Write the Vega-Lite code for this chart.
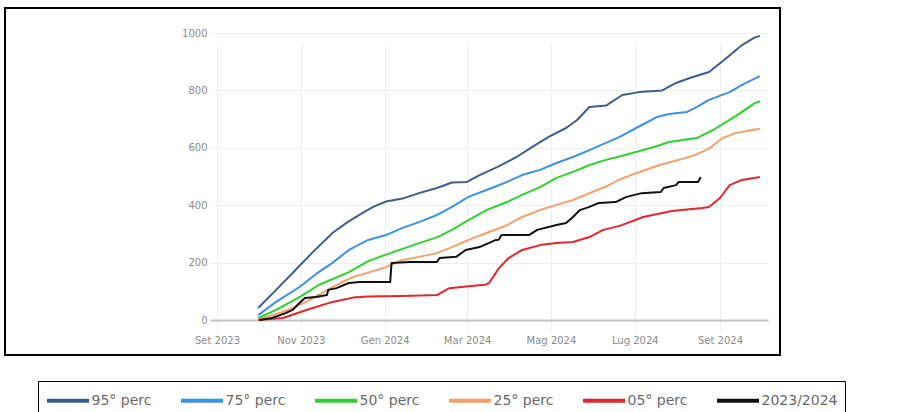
{
  "$schema": "https://vega.github.io/schema/vega-lite/v6.json",
  "width": 775,
  "height": 347,
  "autosize": {"type": "none"},
  "padding": {"left": 5, "top": 8, "right": 118, "bottom": 57},
  "background": "white",
  "config": {
    "view": {"stroke": "#000000", "strokeWidth": 2},
    "font": "DejaVu Sans"
  },
  "data": {
    "values": [
      {"date": "2023-10-01", "value": 42, "series": "95° perc"},
      {"date": "2023-10-14", "value": 105, "series": "95° perc"},
      {"date": "2023-10-26", "value": 164, "series": "95° perc"},
      {"date": "2023-11-09", "value": 233, "series": "95° perc"},
      {"date": "2023-11-24", "value": 303, "series": "95° perc"},
      {"date": "2023-12-05", "value": 341, "series": "95° perc"},
      {"date": "2023-12-16", "value": 373, "series": "95° perc"},
      {"date": "2023-12-24", "value": 395, "series": "95° perc"},
      {"date": "2024-01-02", "value": 413, "series": "95° perc"},
      {"date": "2024-01-14", "value": 423, "series": "95° perc"},
      {"date": "2024-01-26", "value": 442, "series": "95° perc"},
      {"date": "2024-02-08", "value": 460, "series": "95° perc"},
      {"date": "2024-02-19", "value": 479, "series": "95° perc"},
      {"date": "2024-03-01", "value": 481, "series": "95° perc"},
      {"date": "2024-03-10", "value": 505, "series": "95° perc"},
      {"date": "2024-03-24", "value": 535, "series": "95° perc"},
      {"date": "2024-04-06", "value": 568, "series": "95° perc"},
      {"date": "2024-04-18", "value": 605, "series": "95° perc"},
      {"date": "2024-04-30", "value": 640, "series": "95° perc"},
      {"date": "2024-05-12", "value": 669, "series": "95° perc"},
      {"date": "2024-05-20", "value": 697, "series": "95° perc"},
      {"date": "2024-05-29", "value": 742, "series": "95° perc"},
      {"date": "2024-06-10", "value": 747, "series": "95° perc"},
      {"date": "2024-06-22", "value": 784, "series": "95° perc"},
      {"date": "2024-07-04", "value": 794, "series": "95° perc"},
      {"date": "2024-07-21", "value": 800, "series": "95° perc"},
      {"date": "2024-07-31", "value": 826, "series": "95° perc"},
      {"date": "2024-08-10", "value": 843, "series": "95° perc"},
      {"date": "2024-08-24", "value": 864, "series": "95° perc"},
      {"date": "2024-09-06", "value": 914, "series": "95° perc"},
      {"date": "2024-09-17", "value": 958, "series": "95° perc"},
      {"date": "2024-09-26", "value": 984, "series": "95° perc"},
      {"date": "2024-09-30", "value": 990, "series": "95° perc"},

      {"date": "2023-10-01", "value": 17, "series": "75° perc"},
      {"date": "2023-10-14", "value": 63, "series": "75° perc"},
      {"date": "2023-10-31", "value": 115, "series": "75° perc"},
      {"date": "2023-11-14", "value": 167, "series": "75° perc"},
      {"date": "2023-11-24", "value": 199, "series": "75° perc"},
      {"date": "2023-12-06", "value": 244, "series": "75° perc"},
      {"date": "2023-12-20", "value": 279, "series": "75° perc"},
      {"date": "2024-01-02", "value": 296, "series": "75° perc"},
      {"date": "2024-01-14", "value": 321, "series": "75° perc"},
      {"date": "2024-01-26", "value": 341, "series": "75° perc"},
      {"date": "2024-02-08", "value": 366, "series": "75° perc"},
      {"date": "2024-02-19", "value": 394, "series": "75° perc"},
      {"date": "2024-03-02", "value": 429, "series": "75° perc"},
      {"date": "2024-03-15", "value": 453, "series": "75° perc"},
      {"date": "2024-03-30", "value": 481, "series": "75° perc"},
      {"date": "2024-04-10", "value": 505, "series": "75° perc"},
      {"date": "2024-04-23", "value": 523, "series": "75° perc"},
      {"date": "2024-05-05", "value": 547, "series": "75° perc"},
      {"date": "2024-05-17", "value": 568, "series": "75° perc"},
      {"date": "2024-05-29", "value": 592, "series": "75° perc"},
      {"date": "2024-06-10", "value": 617, "series": "75° perc"},
      {"date": "2024-06-20", "value": 638, "series": "75° perc"},
      {"date": "2024-07-02", "value": 669, "series": "75° perc"},
      {"date": "2024-07-17", "value": 707, "series": "75° perc"},
      {"date": "2024-07-26", "value": 718, "series": "75° perc"},
      {"date": "2024-08-08", "value": 725, "series": "75° perc"},
      {"date": "2024-08-15", "value": 742, "series": "75° perc"},
      {"date": "2024-08-24", "value": 767, "series": "75° perc"},
      {"date": "2024-09-08", "value": 794, "series": "75° perc"},
      {"date": "2024-09-17", "value": 819, "series": "75° perc"},
      {"date": "2024-09-30", "value": 850, "series": "75° perc"},

      {"date": "2023-10-01", "value": 7, "series": "50° perc"},
      {"date": "2023-10-14", "value": 35, "series": "50° perc"},
      {"date": "2023-10-31", "value": 80, "series": "50° perc"},
      {"date": "2023-11-14", "value": 122, "series": "50° perc"},
      {"date": "2023-12-06", "value": 167, "series": "50° perc"},
      {"date": "2023-12-20", "value": 205, "series": "50° perc"},
      {"date": "2024-01-02", "value": 228, "series": "50° perc"},
      {"date": "2024-01-14", "value": 248, "series": "50° perc"},
      {"date": "2024-01-26", "value": 268, "series": "50° perc"},
      {"date": "2024-02-08", "value": 288, "series": "50° perc"},
      {"date": "2024-02-19", "value": 314, "series": "50° perc"},
      {"date": "2024-03-02", "value": 348, "series": "50° perc"},
      {"date": "2024-03-15", "value": 383, "series": "50° perc"},
      {"date": "2024-03-30", "value": 411, "series": "50° perc"},
      {"date": "2024-04-10", "value": 436, "series": "50° perc"},
      {"date": "2024-04-23", "value": 463, "series": "50° perc"},
      {"date": "2024-05-05", "value": 495, "series": "50° perc"},
      {"date": "2024-05-17", "value": 516, "series": "50° perc"},
      {"date": "2024-05-29", "value": 540, "series": "50° perc"},
      {"date": "2024-06-10", "value": 558, "series": "50° perc"},
      {"date": "2024-06-22", "value": 572, "series": "50° perc"},
      {"date": "2024-07-15", "value": 603, "series": "50° perc"},
      {"date": "2024-07-26", "value": 620, "series": "50° perc"},
      {"date": "2024-08-15", "value": 634, "series": "50° perc"},
      {"date": "2024-08-27", "value": 662, "series": "50° perc"},
      {"date": "2024-09-08", "value": 697, "series": "50° perc"},
      {"date": "2024-09-17", "value": 725, "series": "50° perc"},
      {"date": "2024-09-26", "value": 755, "series": "50° perc"},
      {"date": "2024-09-30", "value": 762, "series": "50° perc"},

      {"date": "2023-10-01", "value": 3, "series": "25° perc"},
      {"date": "2023-10-19", "value": 28, "series": "25° perc"},
      {"date": "2023-11-05", "value": 63, "series": "25° perc"},
      {"date": "2023-11-24", "value": 115, "series": "25° perc"},
      {"date": "2023-12-09", "value": 150, "series": "25° perc"},
      {"date": "2023-12-20", "value": 165, "series": "25° perc"},
      {"date": "2023-12-31", "value": 181, "series": "25° perc"},
      {"date": "2024-01-14", "value": 209, "series": "25° perc"},
      {"date": "2024-01-26", "value": 220, "series": "25° perc"},
      {"date": "2024-02-08", "value": 233, "series": "25° perc"},
      {"date": "2024-02-19", "value": 254, "series": "25° perc"},
      {"date": "2024-03-02", "value": 279, "series": "25° perc"},
      {"date": "2024-03-15", "value": 303, "series": "25° perc"},
      {"date": "2024-03-30", "value": 330, "series": "25° perc"},
      {"date": "2024-04-10", "value": 359, "series": "25° perc"},
      {"date": "2024-04-23", "value": 383, "series": "25° perc"},
      {"date": "2024-05-05", "value": 401, "series": "25° perc"},
      {"date": "2024-05-17", "value": 418, "series": "25° perc"},
      {"date": "2024-05-29", "value": 442, "series": "25° perc"},
      {"date": "2024-06-10", "value": 465, "series": "25° perc"},
      {"date": "2024-06-20", "value": 490, "series": "25° perc"},
      {"date": "2024-07-04", "value": 515, "series": "25° perc"},
      {"date": "2024-07-19", "value": 540, "series": "25° perc"},
      {"date": "2024-08-05", "value": 562, "series": "25° perc"},
      {"date": "2024-08-15", "value": 577, "series": "25° perc"},
      {"date": "2024-08-24", "value": 597, "series": "25° perc"},
      {"date": "2024-09-03", "value": 634, "series": "25° perc"},
      {"date": "2024-09-13", "value": 652, "series": "25° perc"},
      {"date": "2024-09-30", "value": 666, "series": "25° perc"},

      {"date": "2023-10-01", "value": 0, "series": "05° perc"},
      {"date": "2023-10-19", "value": 7, "series": "05° perc"},
      {"date": "2023-11-05", "value": 35, "series": "05° perc"},
      {"date": "2023-11-24", "value": 63, "series": "05° perc"},
      {"date": "2023-12-09", "value": 78, "series": "05° perc"},
      {"date": "2023-12-20", "value": 82, "series": "05° perc"},
      {"date": "2024-01-14", "value": 84, "series": "05° perc"},
      {"date": "2024-02-08", "value": 87, "series": "05° perc"},
      {"date": "2024-02-17", "value": 111, "series": "05° perc"},
      {"date": "2024-03-15", "value": 124, "series": "05° perc"},
      {"date": "2024-03-17", "value": 129, "series": "05° perc"},
      {"date": "2024-03-24", "value": 180, "series": "05° perc"},
      {"date": "2024-03-31", "value": 215, "series": "05° perc"},
      {"date": "2024-04-10", "value": 244, "series": "05° perc"},
      {"date": "2024-04-23", "value": 261, "series": "05° perc"},
      {"date": "2024-05-05", "value": 268, "series": "05° perc"},
      {"date": "2024-05-17", "value": 272, "series": "05° perc"},
      {"date": "2024-05-29", "value": 289, "series": "05° perc"},
      {"date": "2024-06-08", "value": 314, "series": "05° perc"},
      {"date": "2024-06-20", "value": 328, "series": "05° perc"},
      {"date": "2024-07-07", "value": 359, "series": "05° perc"},
      {"date": "2024-07-28", "value": 380, "series": "05° perc"},
      {"date": "2024-08-19", "value": 390, "series": "05° perc"},
      {"date": "2024-08-24", "value": 394, "series": "05° perc"},
      {"date": "2024-09-01", "value": 425, "series": "05° perc"},
      {"date": "2024-09-08", "value": 470, "series": "05° perc"},
      {"date": "2024-09-17", "value": 488, "series": "05° perc"},
      {"date": "2024-09-30", "value": 498, "series": "05° perc"},

      {"date": "2023-10-02", "value": 0, "series": "2023/2024"},
      {"date": "2023-10-11", "value": 7, "series": "2023/2024"},
      {"date": "2023-10-21", "value": 24, "series": "2023/2024"},
      {"date": "2023-10-26", "value": 35, "series": "2023/2024"},
      {"date": "2023-10-31", "value": 59, "series": "2023/2024"},
      {"date": "2023-11-04", "value": 77, "series": "2023/2024"},
      {"date": "2023-11-12", "value": 80, "series": "2023/2024"},
      {"date": "2023-11-20", "value": 87, "series": "2023/2024"},
      {"date": "2023-11-21", "value": 105, "series": "2023/2024"},
      {"date": "2023-11-27", "value": 111, "series": "2023/2024"},
      {"date": "2023-12-06", "value": 129, "series": "2023/2024"},
      {"date": "2023-12-14", "value": 132, "series": "2023/2024"},
      {"date": "2024-01-05", "value": 132, "series": "2023/2024"},
      {"date": "2024-01-06", "value": 199, "series": "2023/2024"},
      {"date": "2024-01-19", "value": 202, "series": "2023/2024"},
      {"date": "2024-02-08", "value": 202, "series": "2023/2024"},
      {"date": "2024-02-10", "value": 216, "series": "2023/2024"},
      {"date": "2024-02-22", "value": 220, "series": "2023/2024"},
      {"date": "2024-02-29", "value": 244, "series": "2023/2024"},
      {"date": "2024-03-10", "value": 254, "series": "2023/2024"},
      {"date": "2024-03-22", "value": 279, "series": "2023/2024"},
      {"date": "2024-03-24", "value": 280, "series": "2023/2024"},
      {"date": "2024-03-26", "value": 296, "series": "2023/2024"},
      {"date": "2024-04-15", "value": 296, "series": "2023/2024"},
      {"date": "2024-04-21", "value": 314, "series": "2023/2024"},
      {"date": "2024-05-05", "value": 331, "series": "2023/2024"},
      {"date": "2024-05-12", "value": 338, "series": "2023/2024"},
      {"date": "2024-05-17", "value": 359, "series": "2023/2024"},
      {"date": "2024-05-22", "value": 383, "series": "2023/2024"},
      {"date": "2024-05-29", "value": 394, "series": "2023/2024"},
      {"date": "2024-06-05", "value": 408, "series": "2023/2024"},
      {"date": "2024-06-17", "value": 411, "series": "2023/2024"},
      {"date": "2024-06-25", "value": 429, "series": "2023/2024"},
      {"date": "2024-07-06", "value": 442, "series": "2023/2024"},
      {"date": "2024-07-20", "value": 446, "series": "2023/2024"},
      {"date": "2024-07-22", "value": 460, "series": "2023/2024"},
      {"date": "2024-07-31", "value": 470, "series": "2023/2024"},
      {"date": "2024-08-02", "value": 481, "series": "2023/2024"},
      {"date": "2024-08-16", "value": 481, "series": "2023/2024"},
      {"date": "2024-08-18", "value": 498, "series": "2023/2024"}
    ]
  },
  "mark": {"type": "line", "strokeWidth": 2, "interpolate": "linear", "strokeJoin": "round"},
  "encoding": {
    "x": {
      "field": "date",
      "type": "temporal",
      "scale": {
        "domain": [
          {"year": 2023, "month": 8, "date": 26, "hours": 22},
          {"year": 2024, "month": 10, "date": 5, "hours": 22}
        ],
        "range": [205, 763],
        "nice": false
      },
      "axis": {
        "title": null,
        "orient": "bottom",
        "offset": -35,
        "values": [
          {"year": 2023, "month": 9, "date": 1},
          {"year": 2023, "month": 11, "date": 1},
          {"year": 2024, "month": 1, "date": 1},
          {"year": 2024, "month": 3, "date": 1},
          {"year": 2024, "month": 5, "date": 1},
          {"year": 2024, "month": 7, "date": 1},
          {"year": 2024, "month": 9, "date": 1}
        ],
        "labelExpr": "['Gen','Feb','Mar','Apr','Mag','Giu','Lug','Ago','Set','Ott','Nov','Dic'][month(datum.value)] + ' ' + year(datum.value)",
        "ticks": false,
        "tickSize": 0,
        "labelPadding": 15,
        "labelFontSize": 10,
        "labelColor": "#8a8a8a",
        "labelFont": "DejaVu Sans",
        "domain": true,
        "domainColor": "#c4c4c4",
        "domainWidth": 2,
        "grid": true,
        "gridColor": "#eeeeee",
        "gridWidth": 1
      }
    },
    "y": {
      "field": "value",
      "type": "quantitative",
      "scale": {"domain": [0, 1000], "range": [312, 25], "nice": false, "zero": false},
      "axis": {
        "title": null,
        "orient": "left",
        "offset": -204,
        "values": [0, 200, 400, 600, 800, 1000],
        "format": "d",
        "ticks": false,
        "tickSize": 0,
        "labelPadding": 2,
        "labelFontSize": 10,
        "labelColor": "#8a8a8a",
        "labelFont": "DejaVu Sans",
        "domain": false,
        "grid": true,
        "gridColor": "#eeeeee",
        "gridWidth": 1
      }
    },
    "color": {
      "field": "series",
      "type": "nominal",
      "scale": {
        "domain": ["95° perc", "75° perc", "50° perc", "25° perc", "05° perc", "2023/2024"],
        "range": ["#3d5f8f", "#3f8fe6", "#2fd12f", "#f5a06a", "#e8242c", "#111111"]
      },
      "legend": {
        "title": null,
        "orient": "none",
        "legendX": 33,
        "legendY": 373,
        "direction": "horizontal",
        "columns": 6,
        "columnPadding": 21,
        "padding": 7,
        "strokeColor": "#000000",
        "symbolType": "M-2,0H2",
        "symbolSize": 441,
        "symbolOffset": 10.5,
        "symbolStrokeWidth": 4,
        "labelFontSize": 14,
        "labelFont": "DejaVu Sans",
        "labelColor": "#6a6a6a",
        "labelOffset": 11
      }
    }
  }
}
